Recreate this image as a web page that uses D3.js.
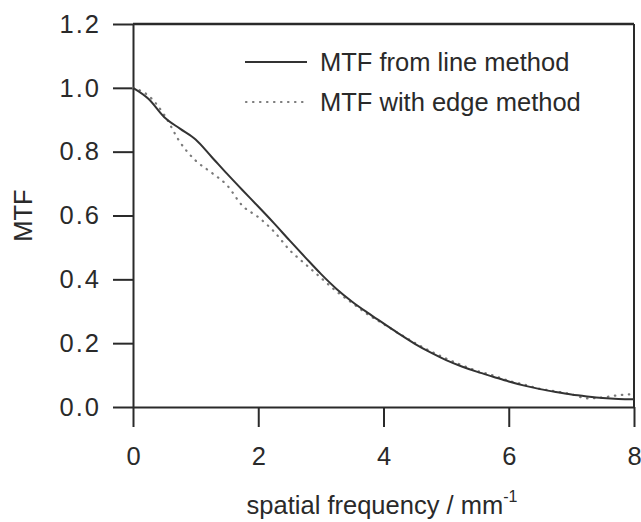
<!DOCTYPE html>
<html>
<head>
<meta charset="utf-8">
<script src="https://cdn.jsdelivr.net/npm/d3@7"></script>
<style>
  html, body { margin: 0; padding: 0; background: #fff; }
  svg { display: block; font-family: "Liberation Sans", Arial, sans-serif; }
</style>
</head>
<body>
<svg id="chart" width="641" height="522"></svg>
<script>
// Spatial frequency samples (mm^-1)
const frequency = [0, 0.25, 0.5, 0.75, 1.0, 1.25, 1.5, 1.75, 2.0, 2.25, 2.5, 2.75, 3.0, 3.25, 3.5, 3.75,
                   4.0, 4.25, 4.5, 4.75, 5.0, 5.25, 5.5, 5.75, 6.0, 6.25, 6.5, 6.75, 7.0, 7.25, 7.5, 7.75, 8.0];
// MTF obtained from the line spread function
const mtfLine = [1.000, 0.965, 0.908, 0.872, 0.838, 0.785, 0.731, 0.679, 0.628, 0.576, 0.522, 0.469, 0.417, 0.370, 0.330, 0.295,
                 0.262, 0.229, 0.198, 0.171, 0.147, 0.127, 0.110, 0.095, 0.080, 0.067, 0.056, 0.047, 0.039, 0.033, 0.028, 0.025, 0.024];
// MTF obtained from the edge spread function
const mtfEdge = [1.000, 0.975, 0.915, 0.830, 0.772, 0.735, 0.695, 0.630, 0.595, 0.550, 0.492, 0.448, 0.405, 0.362, 0.326, 0.290,
                 0.260, 0.230, 0.201, 0.175, 0.152, 0.131, 0.113, 0.099, 0.082, 0.070, 0.057, 0.049, 0.040, 0.027, 0.030, 0.037, 0.040];

const xTicks = [0, 2, 4, 6, 8];
const yTicks = [0.0, 0.2, 0.4, 0.6, 0.8, 1.0, 1.2];
const legendLabels = ["MTF from line method", "MTF with edge method"];

const svg = d3.select("#chart");
const ink = "#2a2a2a";
const fontSize = 25.5;

const x = d3.scaleLinear().domain([0, 8]).range([133, 634]);
const y = d3.scaleLinear().domain([0, 1.2]).range([407, 24]);

// Axes with outward ticks
const yAxis = svg.append("g")
  .attr("transform", `translate(${x(0)},0)`)
  .call(d3.axisLeft(y).tickValues(yTicks).tickFormat(d3.format(".1f"))
        .tickSize(20).tickSizeOuter(0).tickPadding(12));

const xAxis = svg.append("g")
  .attr("transform", `translate(0,${y(0)})`)
  .call(d3.axisBottom(x).tickValues(xTicks).tickFormat(d3.format("d"))
        .tickSize(20).tickSizeOuter(0).tickPadding(20));

[yAxis, xAxis].forEach(g => {
  g.selectAll("path.domain").attr("stroke", ink).attr("stroke-width", 2);
  g.selectAll(".tick line").attr("stroke", ink).attr("stroke-width", 2);
  g.selectAll(".tick text").attr("fill", ink).style("font-size", fontSize + "px")
    .style("font-family", "'Liberation Sans', Arial, sans-serif");
});
yAxis.selectAll(".tick text").style("letter-spacing", "2px");

// Frame: top and right edges
svg.append("line")
  .attr("x1", x(0)).attr("x2", x(8)).attr("y1", y(1.2)).attr("y2", y(1.2))
  .attr("stroke", ink).attr("stroke-width", 2.5);
svg.append("line")
  .attr("x1", x(8)).attr("x2", x(8)).attr("y1", y(1.2)).attr("y2", y(0))
  .attr("stroke", ink).attr("stroke-width", 2);

// Curves
const line = d3.line().x((d, i) => x(frequency[i])).y(d => y(d)).curve(d3.curveMonotoneX);

svg.append("path")
  .datum(mtfEdge)
  .attr("d", line)
  .attr("fill", "none")
  .attr("stroke", "#7a7a7a")
  .attr("stroke-width", 2.2)
  .attr("stroke-linecap", "round")
  .attr("stroke-dasharray", "0.5,6.5");

svg.append("path")
  .datum(mtfLine)
  .attr("d", line)
  .attr("fill", "none")
  .attr("stroke", "#333")
  .attr("stroke-width", 2);

// Legend
const legend = svg.append("g");
const legendY = [62, 102];
legend.append("line")
  .attr("x1", 245).attr("x2", 307).attr("y1", legendY[0]).attr("y2", legendY[0])
  .attr("stroke", "#333").attr("stroke-width", 2);
legend.append("line")
  .attr("x1", 246).attr("x2", 304).attr("y1", legendY[1]).attr("y2", legendY[1])
  .attr("stroke", "#7a7a7a").attr("stroke-width", 2.2)
  .attr("stroke-linecap", "round").attr("stroke-dasharray", "0.5,6.5");
legendLabels.forEach((t, i) => {
  legend.append("text")
    .attr("x", 320).attr("y", legendY[i]).attr("dy", "0.35em")
    .attr("fill", ink).style("font-size", fontSize + "px")
    .text(t);
});

// Axis titles
svg.append("text")
  .attr("transform", `translate(32,${(y(0) + y(1.2)) / 2}) rotate(-90)`)
  .attr("text-anchor", "middle")
  .attr("fill", ink).style("font-size", fontSize + "px")
  .text("MTF");

const xTitle = svg.append("text")
  .attr("x", 382).attr("y", 514)
  .attr("text-anchor", "middle")
  .attr("fill", ink).style("font-size", fontSize + "px");
xTitle.append("tspan").text("spatial frequency / mm");
xTitle.append("tspan").attr("dy", -12).style("font-size", "16px").text("-1");
</script>
</body>
</html>
